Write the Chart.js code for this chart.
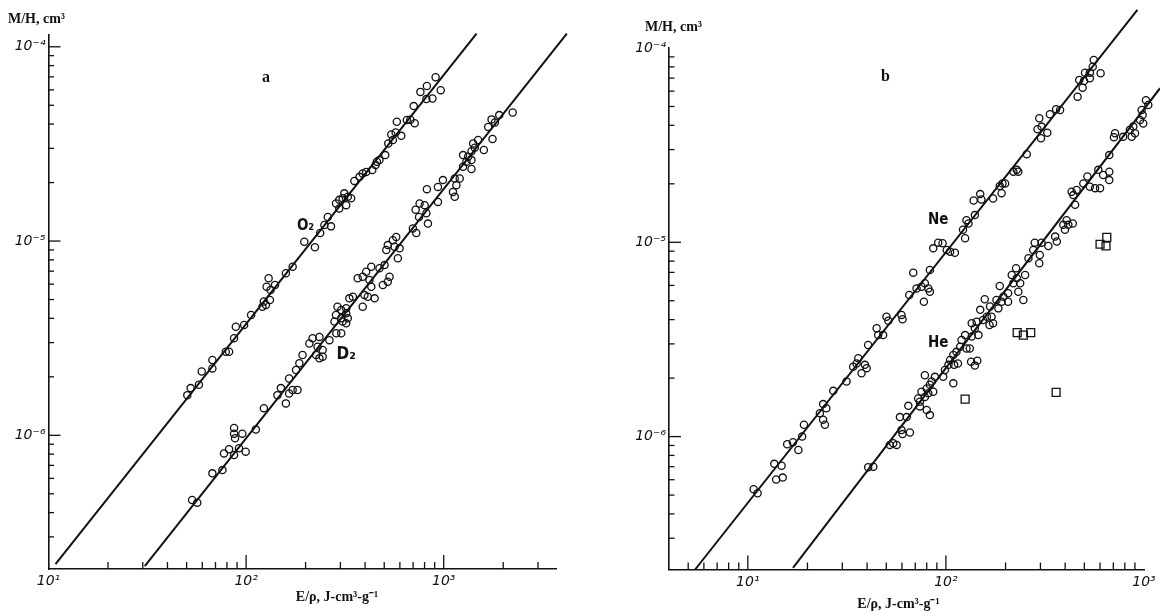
<!DOCTYPE html>
<html><head><meta charset="utf-8">
<script src="https://cdn.jsdelivr.net/npm/chart.js@4.4.1/dist/chart.umd.min.js"></script>
<style>
html,body{margin:0;padding:0;background:#fff;width:1160px;height:614px;overflow:hidden;}
.panel{position:absolute;top:0;width:580px;height:614px;}
#pa{left:0}#pb{left:580px}
</style></head><body>
<div class="panel" id="pa"><canvas id="ca"></canvas></div>
<div class="panel" id="pb"><canvas id="cb"></canvas></div>
<script>
// ---------- Panel a data: E/rho (J cm^3 g^-1) and M/H (cm^3) ----------
const O2_E = [910,822,762,966,877,817,705,579,651,678,713,543,571,610,553,524,506,473,459,452,435,405,389,375,353,340,327,314,308,296,285,296,321,259,249,269,237,197,223,172,159,130,140,127,133,123,132,121,126,106,97.7,88.7,86.9,82.0,78.9,67.5,59.6,67.5,57.7,52.4,50.4];
const O2_MH = [6.97e-5,6.28e-5,5.86e-5,5.98e-5,5.42e-5,5.38e-5,4.95e-5,4.11e-5,4.20e-5,4.21e-5,4.04e-5,3.54e-5,3.62e-5,3.48e-5,3.31e-5,3.18e-5,2.77e-5,2.61e-5,2.56e-5,2.46e-5,2.32e-5,2.27e-5,2.23e-5,2.14e-5,2.04e-5,1.66e-5,1.69e-5,1.76e-5,1.66e-5,1.63e-5,1.56e-5,1.47e-5,1.53e-5,1.33e-5,1.21e-5,1.19e-5,1.10e-5,9.91e-6,9.29e-6,7.38e-6,6.83e-6,6.43e-6,5.94e-6,5.82e-6,5.60e-6,4.88e-6,4.97e-6,4.59e-6,4.69e-6,4.16e-6,3.70e-6,3.62e-6,3.16e-6,2.69e-6,2.69e-6,2.44e-6,2.13e-6,2.21e-6,1.82e-6,1.75e-6,1.61e-6];
const D2_E = [2233,1910,1746,1815,1679,1766,1493,1409,1436,1382,1596,1253,1328,1382,1303,1253,1382,1205,1137,991,1159,1114,1137,935,822,935,801,755,721,817,750,832,698,726,
575,553,521,564,598,586,512,502,473,532,521,492,430,405,389,367,421,430,413,397,447,389,347,333,290,303,321,285,303,321,327,280,308,321,264,235,217,209,230,244,226,244,235,193,186,179,165,150,144,172,182,165,
159,123,112,95.7,86.9,86.9,87.9,92.0,99.5,82.0,77.3,86.9,75.9,67.5,53.3,56.6,286,303];
const D2_MH = [4.59e-5,4.45e-5,4.23e-5,4.08e-5,3.87e-5,3.35e-5,3.31e-5,3.18e-5,3.02e-5,2.90e-5,2.94e-5,2.77e-5,2.72e-5,2.61e-5,2.56e-5,2.41e-5,2.35e-5,2.10e-5,2.10e-5,2.06e-5,1.94e-5,1.79e-5,1.69e-5,1.90e-5,1.85e-5,1.59e-5,1.53e-5,1.56e-5,1.45e-5,1.39e-5,1.33e-5,1.23e-5,1.16e-5,1.10e-5,
1.05e-5,1.01e-5,9.53e-6,9.35e-6,9.17e-6,8.15e-6,9.0e-6,7.52e-6,7.24e-6,6.55e-6,6.18e-6,5.94e-6,7.38e-6,6.95e-6,6.55e-6,6.43e-6,6.30e-6,5.82e-6,5.17e-6,5.27e-6,5.07e-6,4.59e-6,5.17e-6,5.07e-6,4.59e-6,4.42e-6,4.51e-6,4.16e-6,4.0e-6,4.25e-6,4.0e-6,3.85e-6,3.85e-6,3.77e-6,3.09e-6,3.21e-6,3.16e-6,2.97e-6,2.86e-6,2.75e-6,2.59e-6,2.54e-6,2.49e-6,2.59e-6,2.35e-6,2.17e-6,1.96e-6,1.75e-6,1.61e-6,1.71e-6,1.71e-6,1.64e-6,
1.46e-6,1.38e-6,1.07e-6,1.02e-6,1.09e-6,1.02e-6,9.66e-7,8.58e-7,8.24e-7,8.48e-7,8.07e-7,7.92e-7,6.62e-7,6.37e-7,4.65e-7,4.50e-7,3.35e-6,3.35e-6];
const FIT_O2_E = [10.85, 1466];
const FIT_O2_MH = [2.17e-7, 1.17e-4];
const FIT_D2_E = [30.7, 4198];
const FIT_D2_MH = [2.12e-7, 1.17e-4];

// ---------- Panel b data ----------
const NE_E = [558,551,504,533,604,471,498,533,490,462,377,360,335,296,290,304,325,302,256,228,219,232,193,187,199,191,173,149,138,151,140,127,130,122,125,
86.3,91.4,96.2,101,105,111,68.4,83.0,75.3,71.1,78.3,81.5,83.0,77.4,65.3,59.7,50.1,60.4,44.7,45.5,48.2,40.5,36.1,35.4,34.0,39.0,37.5,31.5,27.0,24.0,24.9,
51.2,39.8,23.1,24.0,24.5,
19.2,18.8,16.9,15.8,18.0,13.6,14.8,13.9,15.0,10.7,11.2];
const NE_MH = [8.67e-5,8.01e-5,7.46e-5,7.46e-5,7.41e-5,6.84e-5,6.76e-5,6.98e-5,6.25e-5,5.61e-5,4.80e-5,4.84e-5,4.56e-5,4.35e-5,3.82e-5,3.94e-5,3.66e-5,3.43e-5,2.84e-5,2.36e-5,2.31e-5,2.31e-5,2.01e-5,1.95e-5,2.01e-5,1.79e-5,1.68e-5,1.77e-5,1.64e-5,1.66e-5,1.38e-5,1.30e-5,1.25e-5,1.16e-5,1.05e-5,
9.31e-6,9.96e-6,9.89e-6,9.12e-6,8.95e-6,8.84e-6,6.98e-6,7.20e-6,5.90e-6,5.79e-6,6.15e-6,5.79e-6,5.57e-6,4.94e-6,5.36e-6,4.23e-6,4.14e-6,4.02e-6,3.61e-6,3.33e-6,3.33e-6,2.96e-6,2.53e-6,2.38e-6,2.29e-6,2.34e-6,2.12e-6,1.92e-6,1.72e-6,1.47e-6,1.40e-6,
3.95e-6,2.25e-6,1.32e-6,1.22e-6,1.15e-6,
1.15e-6,1.00e-6,9.35e-7,9.14e-7,8.53e-7,7.24e-7,7.08e-7,6.01e-7,6.15e-7,5.36e-7,5.11e-7];
const HE_E = [1023,1051,973,984,955,991,883,849,901,867,785,714,705,668,588,622,668,668,518,494,533,566,600,457,431,440,449,437,407,391,399,415,356,363,329,304,281,276,298,296,261,226,
215,228,237,251,219,187,206,232,246,195,180,191,184,206,157,149,167,161,170,173,166,154,143,135,140,146,125,120,132,127,113,109,105,115,110,103,98.9,96.9,88.0,78.3,84.7,109,80.0,75.3,81.5,86.3,78.3,72.4,73.9,80.0,83.0,64.6,58.6,63.4,59.7,60.4,65.8,54.2,56.4,52.1,43.0,40.5,
134,144,140,83.0,73.9,135,118];
const HE_MH = [5.39e-5,5.09e-5,4.80e-5,4.52e-5,4.26e-5,4.09e-5,3.94e-5,3.79e-5,3.64e-5,3.49e-5,3.49e-5,3.64e-5,3.47e-5,2.81e-5,2.36e-5,2.22e-5,2.31e-5,2.09e-5,2.18e-5,2.01e-5,1.93e-5,1.90e-5,1.90e-5,1.86e-5,1.82e-5,1.75e-5,1.56e-5,1.25e-5,1.30e-5,1.23e-5,1.16e-5,1.23e-5,1.07e-5,1.01e-5,9.57e-6,9.96e-6,9.96e-6,9.12e-6,8.61e-6,7.80e-6,8.28e-6,7.35e-6,
6.79e-6,6.53e-6,6.15e-6,6.79e-6,6.15e-6,5.96e-6,5.47e-6,5.57e-6,5.05e-6,5.25e-6,5.05e-6,4.94e-6,4.57e-6,4.94e-6,5.09e-6,4.49e-6,4.67e-6,4.14e-6,4.14e-6,3.83e-6,3.75e-6,3.98e-6,3.90e-6,3.83e-6,3.61e-6,3.33e-6,3.33e-6,3.14e-6,2.84e-6,2.84e-6,2.73e-6,2.63e-6,2.48e-6,2.38e-6,2.34e-6,2.34e-6,2.20e-6,2.03e-6,2.03e-6,2.07e-6,1.92e-6,1.88e-6,1.77e-6,1.70e-6,1.67e-6,1.70e-6,1.60e-6,1.57e-6,1.43e-6,1.37e-6,1.29e-6,1.44e-6,1.26e-6,1.26e-6,1.08e-6,1.03e-6,1.05e-6,9.25e-7,9.06e-7,9.06e-7,7.0e-7,6.95e-7,
2.43e-6,2.46e-6,2.32e-6,1.85e-6,1.51e-6,3.27e-6,2.90e-6];
const SQ_E = [600,649,643,229,246,268,125,360];
const SQ_MH = [9.77e-6,1.06e-5,9.57e-6,3.43e-6,3.33e-6,3.43e-6,1.56e-6,1.69e-6];
const FIT_NE_E = [5.42, 926];
const FIT_NE_MH = [2.07e-7, 1.57e-4];
const FIT_HE_E = [16.9, 1205];
const FIT_HE_MH = [2.11e-7, 6.21e-5];

// tick labels (powers of ten)
const SUP = {'-':'\u207B','0':'\u2070','1':'\u00B9','2':'\u00B2','3':'\u00B3','4':'\u2074','5':'\u2075','6':'\u2076','7':'\u2077','8':'\u2078','9':'\u2079'};
function powLabel(v){
  const e = Math.log10(v), r = Math.round(e);
  if (Math.abs(e - r) > 1e-6) return '';
  return '10' + String(r).split('').map(c => SUP[c]).join('');
}
const pts = (xs, ys) => xs.map((x, i) => ({x, y: ys[i]}));

const INK = '#111';
const inwardTicks = {
  id: 'inwardTicks',
  afterDraw(chart, args, o) {
    const ctx = chart.ctx;
    ctx.save();
    ctx.strokeStyle = INK; ctx.lineWidth = 1.3;
    for (const id of ['x', 'y']) {
      const s = chart.scales[id];
      for (const t of s.ticks) {
        const v = t.value;
        if (v <= s.min * 1.0001 || v >= s.max * 0.9999) continue;
        const e = Math.floor(Math.log10(v) + 1e-9);
        const sig = v / Math.pow(10, e);
        if (Math.abs(sig - Math.round(sig)) > 1e-6) continue;
        const major = Math.abs(sig - 1) < 1e-6;
        const p = s.getPixelForValue(v);
        ctx.beginPath();
        if (id === 'x') { ctx.moveTo(p, s.top); ctx.lineTo(p, s.top - (major ? o.xMajor : o.xMinor)); }
        else { ctx.moveTo(s.right, p); ctx.lineTo(s.right + (major ? o.yMajor : o.yMinor), p); }
        ctx.stroke();
      }
    }
    ctx.restore();
  }
};
const textMarks = {
  id: 'textMarks',
  afterDraw(chart, args, o) {
    const ctx = chart.ctx;
    for (const it of (o.items || [])) {
      let x = it.x, y = it.y;
      if (it.data) { x = chart.scales.x.getPixelForValue(it.x); y = chart.scales.y.getPixelForValue(it.y); }
      ctx.save();
      ctx.font = it.font; ctx.fillStyle = INK; ctx.textAlign = it.align || 'center'; ctx.textBaseline = 'middle';
      ctx.fillText(it.text, x, y);
      ctx.restore();
    }
  }
};

const tickFont = {family: "'DejaVu Sans', sans-serif", style: 'italic', size: 14};
const titleFont = "bold 14px 'Liberation Serif', serif";
const seriesFont = s => "bold " + s + "px 'DejaVu Sans Condensed', 'DejaVu Sans', sans-serif";
const Y_TITLE = 'M/H, cm\u00B3';
const X_TITLE = 'E/\u03C1, J-cm\u00B3-g\u207B\u00B9';

function circleSet(label, xs, ys) {
  return {type: 'scatter', label, data: pts(xs, ys), pointStyle: 'circle', pointRadius: 3.6,
          borderColor: INK, backgroundColor: 'rgba(0,0,0,0)', borderWidth: 1.3, clip: false, order: 1};
}
function fitSet(label, xs, ys) {
  return {type: 'scatter', label, data: pts(xs, ys), showLine: true, pointRadius: 0, borderColor: INK,
          borderWidth: 2, clip: false, fill: false, tension: 0, order: 2};
}
function makeScales(o) {
  return {
    x: {type: 'logarithmic', position: 'bottom', min: o.xmin, max: o.xmax,
        grid: {display: true, drawOnChartArea: false, drawTicks: false},
        border: {display: true, color: INK, width: 1.6},
        ticks: {autoSkip: false, maxRotation: 0, padding: 4, color: INK, font: tickFont, callback: powLabel},
        afterFit: s => { s.height = o.xh; }},
    y: {type: 'logarithmic', position: 'left', min: o.ymin, max: o.ymax,
        grid: {display: true, drawOnChartArea: false, drawTicks: false},
        border: {display: true, color: INK, width: 1.6},
        ticks: {autoSkip: false, padding: 3, color: INK, font: tickFont, callback: powLabel},
        afterFit: s => { s.width = o.yw; }}
  };
}
function makeChart(canvasId, datasets, o) {
  return new Chart(document.getElementById(canvasId), {
    type: 'scatter',
    data: {datasets},
    options: {
      responsive: true, maintainAspectRatio: false, animation: false,
      layout: {padding: o.pad},
      scales: makeScales(o),
      plugins: {
        legend: {display: false}, tooltip: {enabled: false}, title: {display: false},
        inwardTicks: {xMajor: 14, xMinor: 7, yMajor: 12, yMinor: 5.5},
        textMarks: {items: o.texts}
      }
    },
    plugins: [inwardTicks, textMarks]
  });
}

makeChart('ca', [
  circleSet('O\u2082', O2_E, O2_MH),
  circleSet('D\u2082', D2_E, D2_MH),
  fitSet('O\u2082 fit', FIT_O2_E, FIT_O2_MH),
  fitSet('D\u2082 fit', FIT_D2_E, FIT_D2_MH)
], {
  xmin: 10, xmax: 3700, ymin: 2.05e-7, ymax: 1.15e-4, xh: 45, yw: 48.5,
  pad: {left: 0, right: 24, top: 35, bottom: 0},
  texts: [
    {text: Y_TITLE, x: 8, y: 19.5, align: 'left', font: titleFont},
    {text: 'a', x: 126, y: 6.9e-5, data: true, font: "bold 16px 'Liberation Serif', serif"},
    {text: 'O\u2082', x: 200, y: 1.19e-5, data: true, font: seriesFont(15)},
    {text: 'D\u2082', x: 321, y: 2.59e-6, data: true, font: seriesFont(17)},
    {text: X_TITLE, x: 337, y: 597, font: titleFont}
  ]
});

makeChart('cb', [
  circleSet('Ne', NE_E, NE_MH),
  circleSet('He', HE_E, HE_MH),
  {type: 'scatter', label: 'He (squares)', data: pts(SQ_E, SQ_MH), pointStyle: 'rect', pointRadius: 5.6,
   borderColor: INK, backgroundColor: 'rgba(0,0,0,0)', borderWidth: 1.3, clip: false, order: 1},
  fitSet('Ne fit', FIT_NE_E, FIT_NE_MH),
  fitSet('He fit', FIT_HE_E, FIT_HE_MH)
], {
  xmin: 4, xmax: 1000, ymin: 2.07e-7, ymax: 1e-4, xh: 44.5, yw: 69,
  pad: {left: 20, right: 16, top: 48, bottom: 0},
  texts: [
    {text: Y_TITLE, x: 65, y: 27.4, align: 'left', font: titleFont},
    {text: 'b', x: 49.5, y: 7.14e-5, data: true, font: "bold 16px 'Liberation Serif', serif"},
    {text: 'Ne', x: 91.4, y: 1.30e-5, data: true, font: seriesFont(15)},
    {text: 'He', x: 91.4, y: 3.02e-6, data: true, font: seriesFont(15)},
    {text: X_TITLE, x: 318.5, y: 604.7, font: titleFont}
  ]
});
</script></body></html>
